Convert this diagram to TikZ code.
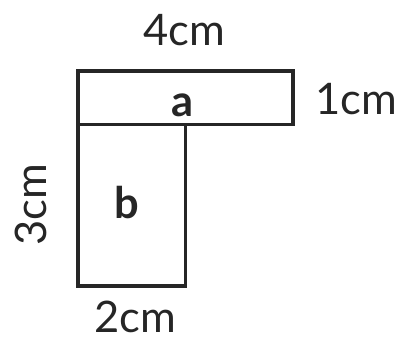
\documentclass[tikz,border=0pt]{standalone}
\usepackage{fontspec}
\setmainfont{Lato}
\usetikzlibrary{positioning}
\tikzset{
  shapeline/.style={draw=black!85, line width=1.6pt, line join=miter},
  sizelabel/.style={inner sep=0pt, font=\fontsize{23}{27}\selectfont, text=black!85},
  partlabel/.style={inner sep=0pt, font=\fontsize{23}{27}\selectfont\bfseries, text=black!85}
}
\begin{document}
\begin{tikzpicture}
\useasboundingbox (-1.451,-0.967) rectangle (6.028,5.321);
% the two rectangles of the L shape
\draw[shapeline] (0,3) rectangle (4,4);
\draw[shapeline] (0,0) rectangle (2,3);
% labels
\path (1.95,3.37) node[partlabel] (a) {a};
\path (0.90,1.56) node[partlabel] (b) {b};
\path (1.98,4.76) node[sizelabel] (top) {4cm};
\path (5.17,3.48) node[sizelabel] (right) {1cm};
\path (1.07,-0.58) node[sizelabel] (bottom) {2cm};
\path (-0.874,1.507) node[sizelabel, rotate=90] (left) {3cm};
\end{tikzpicture}
\end{document}
